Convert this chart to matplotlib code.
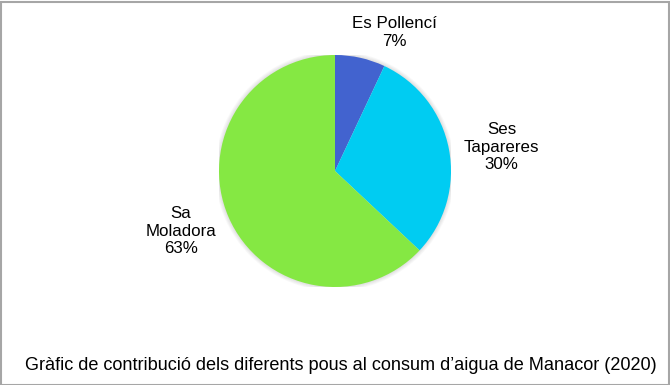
import numpy as np
import matplotlib.pyplot as plt
from matplotlib.patches import Rectangle, Circle

plt.rcParams['font.family'] = ['Liberation Sans', 'DejaVu Sans']

labels = ["Es Pollencí", "Ses\nTapareres", "Sa\nMoladora"]
values = [7, 30, 63]
colors = ["#4263CF", "#00CCF2", "#85E843"]
title = "Gràfic de contribució dels diferents pous al consum d\u2019aigua de Manacor (2020)"

label_r = [1.30, 1.45, 1.425]
label_shift = [-10.7, -2.6, -2.1]

W, H = 670, 385
fig = plt.figure(figsize=(W / 100, H / 100), dpi=100)

cx, cy, r = 335, 171, 116
ax = fig.add_axes([(cx - r) / W, (H - cy - r) / H, 2 * r / W, 2 * r / H])

# soft shadow round the pie
for i in range(5):
    ax.add_patch(Circle((0, 0), 1 + 0.007 * (i + 1), color='black',
                        alpha=0.025, lw=0, zorder=0))

wedges, _ = ax.pie(values, colors=colors, startangle=90, counterclock=False,
                   radius=1, wedgeprops=dict(linewidth=0, zorder=2))
ax.set_xlim(-1, 1)
ax.set_ylim(-1, 1)
ax.set_aspect('equal')
ax.axis('off')

total = sum(values)
for w, lab, v, rr, sh in zip(wedges, labels, values, label_r, label_shift):
    ang = np.deg2rad((w.theta1 + w.theta2) / 2 + sh)
    ax.text(rr * np.cos(ang), rr * np.sin(ang), f"{lab}\n{round(100 * v / total)}%",
            ha='center', va='center', fontsize=12.2, linespacing=1.2, clip_on=False)

fig.text(341 / W, 1 - 365 / H, title, ha='center', va='center', fontsize=13.1)

fig.patches.append(Rectangle((0.5 / W, 0.5 / H), 1 - 2 / W, 1 - 2 / H,
                             transform=fig.transFigure, fill=False,
                             edgecolor='#A6A6A6', linewidth=1.5))

plt.savefig("out.png", dpi=100)
plt.close(fig)
